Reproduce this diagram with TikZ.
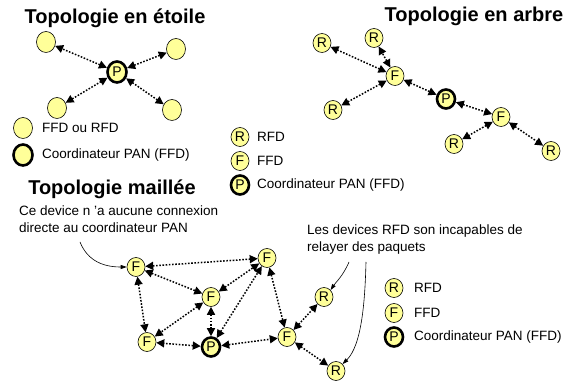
\documentclass[tikz,border=0pt]{standalone}
\usepackage{fontspec}
\setmainfont{Liberation Sans}
\usetikzlibrary{arrows.meta,shapes.geometric}
\definecolor{nodeyellow}{HTML}{FFFF99}
\tikzset{
  dev/.style={ellipse, draw=black, line width=0.6pt, fill=nodeyellow, minimum width=18pt, minimum height=19pt, inner sep=0pt, font=\fontsize{14}{14}\selectfont},
  bigdev/.style={ellipse, draw=black, line width=0.6pt, fill=nodeyellow, minimum width=19pt, minimum height=21pt, inner sep=0pt},
  coord/.style={dev, line width=2.6pt},
  bigcoord/.style={bigdev, line width=2.6pt, font=\fontsize{14}{14}\selectfont},
  link/.style={line width=1.5pt, dash pattern=on 1.6pt off 1.6pt, {Triangle[length=8pt,width=8pt]}-{Triangle[length=8pt,width=8pt]}},
  title/.style={font=\fontsize{20}{22}\selectfont\bfseries, inner sep=0pt},
  lbl/.style={font=\fontsize{13.5}{16}\selectfont, inner sep=0pt, anchor=west},
  note/.style={font=\fontsize{13.5}{17}\selectfont, inner sep=0pt, align=left},
  pointer/.style={line width=0.6pt, -{Triangle[length=6pt,width=4pt]}}
}
\begin{document}
\begin{tikzpicture}[x=1pt,y=-1pt]
\useasboundingbox (0,0) rectangle (568,387);
% ---------- star ----------
\node[title] (t1) at (115,18) {Topologie en étoile};
\node[bigdev] (s1) at (46,42) {};
\node[bigdev] (s2) at (176,49) {};
\node[bigcoord] (sp) at (117,72) {P};
\node[bigdev] (s3) at (57,108) {};
\node[bigdev] (s4) at (172,110) {};
\foreach \n in {s1,s2,s3,s4} \draw[link] (sp) -- (\n);
\node[bigdev] (l1) at (23,128) {};
\node[lbl] (l1t) at (42,128) {FFD ou RFD};
\node[bigdev, line width=2.6pt] (l2) at (23,155) {};
\node[lbl] (l2t) at (42,155) {Coordinateur PAN (FFD)};
% ---------- tree ----------
\node[title] (t2) at (474,16) {Topologie en arbre};
\node[dev] (tr1) at (322,43) {R};
\node[dev] (tr2) at (374,38) {R};
\node[dev] (tf1) at (395,76) {F};
\node[dev] (tr3) at (333,110) {R};
\node[coord] (tp) at (446,99) {P};
\node[dev] (tf2) at (501,117) {F};
\node[dev] (tr4) at (454,144) {R};
\node[dev] (tr5) at (551,151) {R};
\draw[link] (tf1) -- (tr1);
\draw[link] (tf1) -- (tr2);
\draw[link] (tf1) -- (tr3);
\draw[link] (tf1) -- (tp);
\draw[link] (tp) -- (tf2);
\draw[link] (tf2) -- (tr4);
\draw[link] (tf2) -- (tr5);
% middle legend
\node[dev] (m1) at (240,137) {R};
\node[lbl] (m1t) at (257,137) {RFD};
\node[dev] (m2) at (240,161) {F};
\node[lbl] (m2t) at (257,161) {FFD};
\node[coord] (m3) at (240,185) {P};
\node[lbl] (m3t) at (257,185) {Coordinateur PAN (FFD)};
% ---------- mesh ----------
\node[title] (t3) at (112,189) {Topologie maillée};
\node[note, anchor=north west] (n1) at (19,206) {Ce device n 'a aucune connexion\\directe au coordinateur PAN};
\node[dev] (fa) at (136,267) {F};
\node[dev] (fb) at (267,258) {F};
\node[dev] (fc) at (211,297) {F};
\node[dev] (fd) at (147,342) {F};
\node[coord] (pm) at (211,347) {P};
\node[dev] (fe) at (287,337) {F};
\node[dev] (ra) at (324,297) {R};
\node[dev] (rb) at (336,371) {R};
\draw[link] (fa) -- (fb);
\draw[link] (fa) -- (fc);
\draw[link] (fa) -- (fd);
\draw[link] (fc) -- (fb);
\draw[link] (fc) -- (fd);
\draw[link] (fc) -- (pm);
\draw[link] (pm) -- (fb);
\draw[link] (pm) -- (fd);
\draw[link] (pm) -- (fe);
\draw[link] (fb) -- (fe);
\draw[link] (fe) -- (ra);
\draw[link] (fe) -- (rb);
\coordinate (c1) at (80,242);
\draw[pointer] (c1) .. controls (88,262) and (105,267) .. (fa.west);
\node[note, anchor=north west] (n2) at (307,225) {Les devices RFD son incapables de\\relayer des paquets};
\coordinate (c2) at (349,262);
\coordinate (c3) at (366,262);
\draw[pointer] (c2) .. controls (343,276) and (336,282) .. (ra.north east);
\draw[pointer] (c3) .. controls (365,300) and (362,345) .. (rb.north east);
% right legend
\node[dev] (r1) at (394,288) {R};
\node[lbl] (r1t) at (414,288) {RFD};
\node[dev] (r2) at (394,313) {F};
\node[lbl] (r2t) at (414,313) {FFD};
\node[coord] (r3) at (394,337) {P};
\node[lbl] (r3t) at (414,337) {Coordinateur PAN (FFD)};
\end{tikzpicture}
\end{document}
